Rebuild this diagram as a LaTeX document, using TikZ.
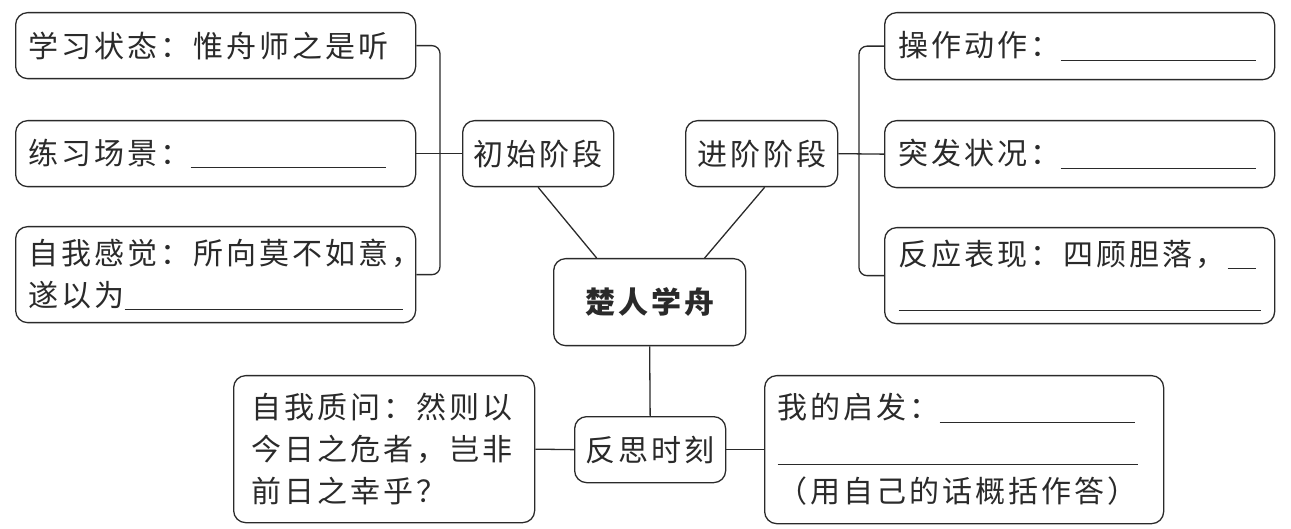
\documentclass[tikz,border=0pt]{standalone}
\usepackage{fontspec}
\usetikzlibrary{calc}
\newfontfamily\cjk[LetterSpace=10]{Noto Sans CJK SC}
\definecolor{ink}{HTML}{2A2A2A}
\newcommand\blank[1]{\rule[-4pt]{#1pt}{1.2pt}}
\begin{document}
\begin{tikzpicture}[x=1pt,y=-1pt,
  txt/.style={font=\cjk\fontsize{30pt}{42pt}\selectfont, text=ink},
  box/.style={txt, draw=ink, line width=1.3pt, rounded corners=12pt, anchor=north west, inner ysep=4pt},
  lbox/.style={box, align=left, inner xsep=13pt},
  cbox/.style={box, align=center, inner xsep=4pt},
  link/.style={draw=ink, line width=1.3pt},
  brace/.style={link, rounded corners=8pt}]
\useasboundingbox (0,0) rectangle (1291,529);

% left column
\node[lbox, text width=374pt, minimum height=66pt] (L1) at (15,12) {学习状态：惟舟师之是听};
\node[lbox, text width=374pt, minimum height=66pt] (L2) at (15,120) {练习场景：\blank{195}};
\node[lbox, text width=374pt, minimum height=96pt] (L3) at (15,226) {自我感觉：所向莫不如意，\\遂以为\blank{278}};

% stage nodes
\node[cbox, minimum width=151pt, minimum height=66pt] (A) at (462,120) {初始阶段};
\node[cbox, minimum width=152pt, minimum height=66pt] (B) at (685,120) {进阶阶段};

% right column
\node[lbox, inner xsep=14pt, text width=362pt, minimum height=67pt] (R1) at (884,12) {操作动作：\blank{195}};
\node[lbox, inner xsep=14pt, text width=362pt, minimum height=67pt] (R2) at (884,120) {突发状况：\blank{195}};
\node[lbox, inner xsep=14pt, text width=362pt, minimum height=96pt] (R3) at (884,227) {反应表现：四顾胆落，\hspace{2pt}\blank{28}\\\blank{362}};

% centre
\node[cbox, minimum width=192pt, minimum height=87pt, font=\cjk\bfseries\fontsize{30pt}{42pt}\selectfont] (C) at (553,258) {楚人学舟};

% bottom
\node[cbox, minimum width=151pt, minimum height=66pt] (D) at (574,416) {反思时刻};
\node[lbox, inner xsep=18pt, text width=265pt, minimum height=147pt] (BL) at (233,375) {自我质问：然则以\\今日之危者，岂非\\前日之幸乎？};
\node[lbox, text width=373pt, minimum height=148pt] (BR) at (764,375) {我的启发：\blank{195}\\\blank{360}\\（用自己的话概括作答）};

% connectors
\coordinate (lx) at (440,0);
\coordinate (rx) at (859,0);
\draw[brace] (L1.east) -- (L1.east -| lx) -- (L3.east -| lx) -- (L3.east);
\draw[link] (L2.east) -- (A.west);
\draw[brace] (R1.west) -- (R1.west -| rx) -- (R3.west -| rx) -- (R3.west);
\draw[link] (B.east) -- (R2.west);
\draw[link] (A.south) -- ($(C.north)+(-53,0)$);
\draw[link] ($(B.south)+(3,0)$) -- ($(C.north)+(55,0)$);
\draw[link] (C.south) -- (D.north);
\draw[link] (BL.east) -- (D.west);
\draw[link] (D.east) -- (BR.west);
\end{tikzpicture}
\end{document}
